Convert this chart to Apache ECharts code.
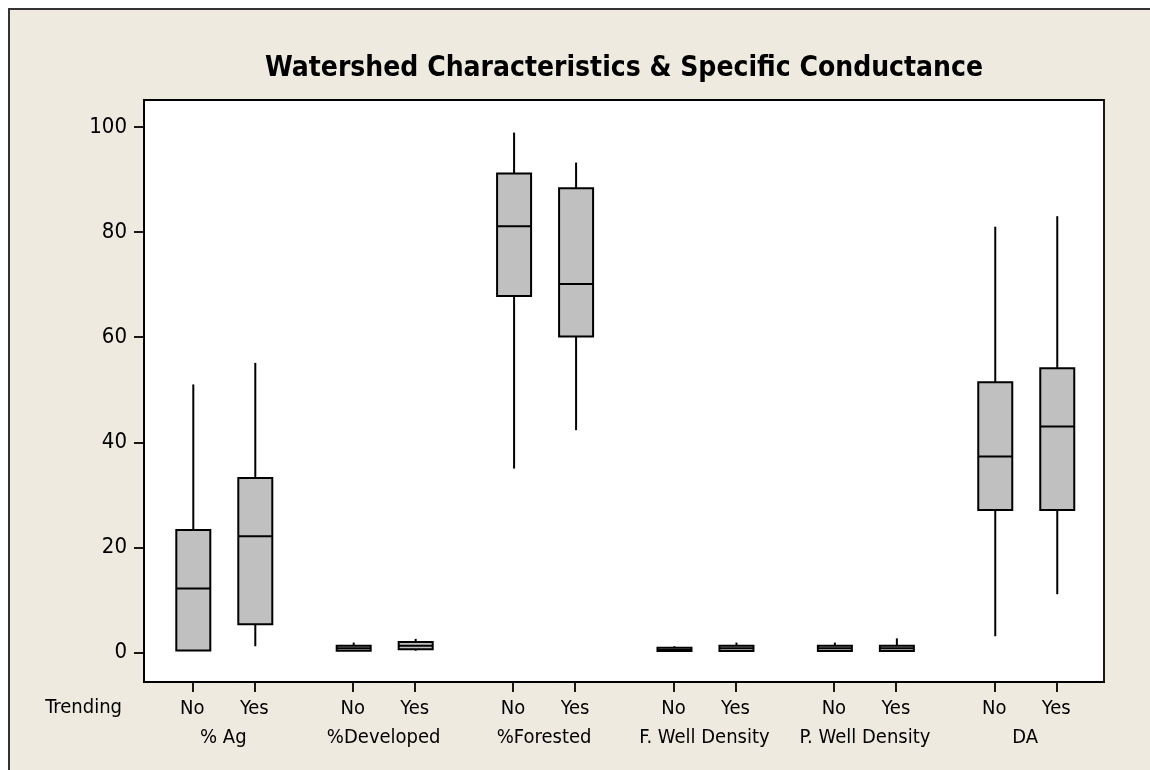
<!DOCTYPE html>
<html>
<head>
<meta charset="utf-8">
<script src="https://cdn.jsdelivr.net/npm/echarts@6/dist/echarts.min.js"></script>
<style>
  html, body { margin: 0; padding: 0; background: #ffffff; }
  #frame { position: absolute; left: 8px; top: 8px; width: 1200px; height: 820px;
           background: #EEEAE0; border-left: 2px solid #333; border-top: 2px solid #333; }
  #chart { position: absolute; left: 0; top: 0; width: 1150px; height: 770px; }
</style>
</head>
<body>
<div id="frame"></div>
<div id="chart"></div>
<script>
// ---- Data ----
const groups = ['% Ag', '%Developed', '%Forested', 'F. Well Density', 'P. Well Density', 'DA'];
const trending = ['No', 'Yes'];
// order: for each group, No then Yes
const mins    = [0.3, 1.2, 0.3, 0.35, 35.0, 42.3, 0.2, 0.2, 0.2, 0.2, 3.1, 11.1];
const q1s     = [0.4, 5.4, 0.35, 0.65, 67.8, 60.1, 0.3, 0.3, 0.3, 0.3, 27.1, 27.1];
const medians = [12.2, 22.1, 0.8, 1.3, 81.1, 70.1, 0.5, 0.8, 0.8, 0.8, 37.3, 43.0];
const q3s     = [23.3, 33.2, 1.3, 2.0, 91.1, 88.3, 0.9, 1.3, 1.3, 1.3, 51.4, 54.1];
const maxs    = [51.0, 55.1, 1.9, 2.6, 98.9, 93.2, 1.2, 1.9, 1.9, 2.7, 81.0, 83.0];
const yTicks  = [0, 20, 40, 60, 80, 100];

// ---- layout helpers ----
const groupSpacing = 2.587;   // distance between groups, in "No-Yes" units
const positions = [];
const posLabels = [];
groups.forEach((g, gi) => {
  trending.forEach((t, ti) => { positions.push(gi * groupSpacing + ti); posLabels.push(t); });
});
const groupCenters = groups.map((g, gi) => gi * groupSpacing + 0.5);
const boxData = positions.map((x, i) => [x, mins[i], q1s[i], medians[i], q3s[i], maxs[i]]);

function nearestIndex(arr, v) {
  let best = 0, bd = Infinity;
  arr.forEach((a, i) => { const d = Math.abs(a - v); if (d < bd) { bd = d; best = i; } });
  return best;
}

const FONT = "'DejaVu Sans Condensed', 'DejaVu Sans', sans-serif";
const xMin = -0.779, xMax = 14.705;

const chart = echarts.init(document.getElementById('chart'), null, { renderer: 'canvas' });
chart.setOption({
  backgroundColor: 'transparent',
  animation: false,
  title: {
    text: 'Watershed Characteristics & Specific Conductance',
    left: 624,
    textAlign: 'center',
    top: 55,
    padding: 0,
    textStyle: { fontFamily: FONT, fontSize: 28, fontWeight: 'bold', color: '#000' }
  },
  grid: {
    left: 144, top: 100, right: 46, bottom: 88,
    show: true, backgroundColor: '#ffffff', borderColor: '#000', borderWidth: 1.8
  },
  xAxis: [{
    type: 'value', min: xMin, max: xMax, position: 'bottom',
    name: 'Trending', nameLocation: 'start', nameGap: 22,
    nameTextStyle: { fontFamily: FONT, fontSize: 20, color: '#000', verticalAlign: 'top', padding: [16, 0, 0, 0] },
    axisLine: { show: true, onZero: false, lineStyle: { color: '#000', width: 1.8 } },
    axisTick: { show: true, customValues: positions, length: 10, lineStyle: { color: '#000', width: 1.8 } },
    axisLabel: {
      customValues: positions, margin: 17, fontFamily: FONT, fontSize: 20, color: '#000',
      formatter: v => posLabels[nearestIndex(positions, v)]
    },
    splitLine: { show: false }
  }, {
    type: 'value', min: xMin, max: xMax, position: 'bottom',
    axisLine: { show: false, onZero: false },
    axisTick: { show: false },
    axisLabel: {
      customValues: groupCenters, margin: 46, fontFamily: FONT, fontSize: 20, color: '#000',
      formatter: v => groups[nearestIndex(groupCenters, v)]
    },
    splitLine: { show: false }
  }],
  yAxis: {
    type: 'value', min: -5.6, max: 105.1,
    axisLine: { show: true, onZero: false, lineStyle: { color: '#000', width: 1.8 } },
    axisTick: { show: true, customValues: yTicks, length: 10, lineStyle: { color: '#000', width: 1.8 } },
    axisLabel: { customValues: yTicks, margin: 17, fontFamily: FONT, fontSize: 22, color: '#000' },
    splitLine: { show: false }
  },
  series: [{
    type: 'custom',
    xAxisIndex: 0,
    data: boxData,
    encode: { x: 0, y: [1, 2, 3, 4, 5] },
    renderItem: function (params, api) {
      const x = api.value(0);
      const pMin = api.coord([x, api.value(1)]);
      const pQ1 = api.coord([x, api.value(2)]);
      const pMed = api.coord([x, api.value(3)]);
      const pQ3 = api.coord([x, api.value(4)]);
      const pMax = api.coord([x, api.value(5)]);
      const hw = 17;
      const cx = pMed[0] + 1;
      const lineStyle = { stroke: '#000', lineWidth: 2 };
      return {
        type: 'group',
        children: [
          { type: 'line', shape: { x1: cx, y1: pMax[1], x2: cx, y2: pQ3[1] }, style: lineStyle },
          { type: 'line', shape: { x1: cx, y1: pQ1[1], x2: cx, y2: pMin[1] }, style: lineStyle },
          { type: 'rect', shape: { x: cx - hw, y: pQ3[1], width: 2 * hw, height: pQ1[1] - pQ3[1] },
            style: { fill: '#C0C0C0', stroke: '#000', lineWidth: 2 } },
          { type: 'line', shape: { x1: cx - hw, y1: pMed[1], x2: cx + hw, y2: pMed[1] },
            style: { stroke: '#000', lineWidth: 2 } }
        ]
      };
    }
  }]
});
</script>
</body>
</html>
